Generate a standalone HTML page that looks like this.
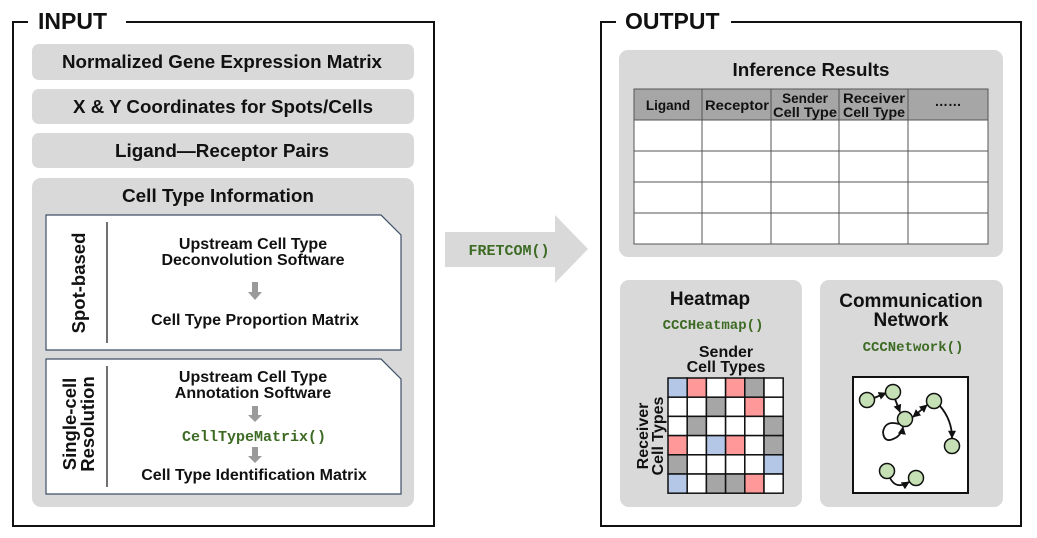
<!DOCTYPE html>
<html><head><meta charset="utf-8"><style>
html,body{margin:0;padding:0;background:#fff;}
svg{display:block;font-family:"Liberation Sans",Arial,sans-serif;}
.b{font-weight:bold;fill:#111;}
.m{font-family:"Liberation Mono","DejaVu Sans Mono",monospace;font-weight:bold;fill:#3d6b24;}
</style></head><body>
<svg width="1037" height="538" viewBox="0 0 1037 538" xmlns="http://www.w3.org/2000/svg">
<defs>
<marker id="ah" viewBox="0 0 10 10" refX="9" refY="5" markerWidth="4.5" markerHeight="4.5" orient="auto-start-reverse"><path d="M0,0 L10,5 L0,10 z" fill="#111"/></marker>
</defs>
<!-- INPUT frame -->
<path d="M28,22 H13 V526 H434 V22 H126" fill="none" stroke="#111" stroke-width="2"/>
<text x="38" y="29" class="b" font-size="23">INPUT</text>
<rect x="32" y="44" width="382" height="36" rx="7" fill="#d9d9d9"/>
<text x="222" y="68" class="b" font-size="18.5" text-anchor="middle" textLength="320" lengthAdjust="spacingAndGlyphs">Normalized Gene Expression Matrix</text>
<rect x="32" y="89" width="382" height="35" rx="7" fill="#d9d9d9"/>
<text x="223" y="113" class="b" font-size="18.5" text-anchor="middle" textLength="300" lengthAdjust="spacingAndGlyphs">X &amp; Y Coordinates for Spots/Cells</text>
<rect x="32" y="133" width="382" height="35" rx="7" fill="#d9d9d9"/>
<text x="222" y="157" class="b" font-size="18.5" text-anchor="middle" textLength="214" lengthAdjust="spacingAndGlyphs">Ligand—Receptor Pairs</text>
<rect x="32" y="178" width="382" height="329" rx="9" fill="#d9d9d9"/>
<text x="218" y="202" class="b" font-size="18.5" text-anchor="middle" textLength="192" lengthAdjust="spacingAndGlyphs">Cell Type Information</text>
<!-- spot-based -->
<path d="M46,215 H381 L401,235 V350 H46 Z" fill="#fff" stroke="#3e4e66" stroke-width="1.2"/>
<line x1="107" y1="222" x2="107" y2="343" stroke="#111" stroke-width="1.2"/>
<text transform="translate(85,283) rotate(-90)" class="b" font-size="18.5" text-anchor="middle">Spot-based</text>
<text x="253" y="249" class="b" font-size="16" text-anchor="middle">Upstream Cell Type</text>
<text x="253" y="265" class="b" font-size="16" text-anchor="middle">Deconvolution Software</text>
<path d="M252,282 h6 v10 h4 l-7,8 l-7,-8 h4 z" fill="#9a9a9a"/>
<text x="255" y="325" class="b" font-size="16" text-anchor="middle">Cell Type Proportion Matrix</text>
<!-- single-cell -->
<path d="M46,359 H381 L401,379 V494 H46 Z" fill="#fff" stroke="#3e4e66" stroke-width="1.2"/>
<line x1="107" y1="366" x2="107" y2="487" stroke="#111" stroke-width="1.2"/>
<text transform="translate(76,424) rotate(-90)" class="b" font-size="18.5" text-anchor="middle">Single-cell</text>
<text transform="translate(94,424) rotate(-90)" class="b" font-size="18.5" text-anchor="middle">Resolution</text>
<text x="253" y="382" class="b" font-size="16" text-anchor="middle">Upstream Cell Type</text>
<text x="253" y="398" class="b" font-size="16" text-anchor="middle">Annotation Software</text>
<path d="M252,406 h6 v9 h4 l-7,7 l-7,-7 h4 z" fill="#9a9a9a"/>
<text x="254" y="441" class="m" font-size="15" text-anchor="middle">CellTypeMatrix()</text>
<path d="M252,447 h6 v9 h4 l-7,7 l-7,-7 h4 z" fill="#9a9a9a"/>
<text x="254" y="480" class="b" font-size="16" text-anchor="middle">Cell Type Identification Matrix</text>
<!-- big arrow -->
<path d="M445,232 H555 V215 L588,249 L555,283 V267 H445 Z" fill="#d9d9d9"/>
<text x="509" y="255" class="m" font-size="15" text-anchor="middle">FRETCOM()</text>
<!-- OUTPUT frame -->
<path d="M616,22 H601 V526 H1021 V22 H731" fill="none" stroke="#111" stroke-width="2"/>
<text x="625" y="29" class="b" font-size="23">OUTPUT</text>
<rect x="619" y="50" width="384" height="207" rx="9" fill="#d9d9d9"/>
<text x="811" y="76" class="b" font-size="18.5" text-anchor="middle" textLength="157" lengthAdjust="spacingAndGlyphs">Inference Results</text>
<rect x="634" y="89" width="354" height="31" fill="#a6a6a6"/>
<rect x="634" y="120" width="354" height="124" fill="#fff"/>
<g stroke="#555" stroke-width="1" fill="none">
<rect x="634" y="89" width="354" height="155"/>
<line x1="634" y1="120" x2="988" y2="120"/><line x1="634" y1="151" x2="988" y2="151"/><line x1="634" y1="182" x2="988" y2="182"/><line x1="634" y1="213" x2="988" y2="213"/>
<line x1="702" y1="89" x2="702" y2="244"/><line x1="771" y1="89" x2="771" y2="244"/><line x1="839" y1="89" x2="839" y2="244"/><line x1="908" y1="89" x2="908" y2="244"/>
</g>
<g class="b" font-size="13.5" text-anchor="middle">
<text x="668" y="110">Ligand</text><text x="737" y="110" textLength="64" lengthAdjust="spacingAndGlyphs">Receptor</text>
<text x="805" y="103">Sender</text><text x="805" y="117" textLength="64" lengthAdjust="spacingAndGlyphs">Cell Type</text>
<text x="874" y="103" textLength="62" lengthAdjust="spacingAndGlyphs">Receiver</text><text x="874" y="117" textLength="62" lengthAdjust="spacingAndGlyphs">Cell Type</text>
<text x="948" y="106">……</text></g>
<!-- heatmap panel -->
<rect x="620" y="280" width="182" height="227" rx="9" fill="#d9d9d9"/>
<text x="710" y="305" class="b" font-size="19" text-anchor="middle">Heatmap</text>
<text x="713" y="329" class="m" font-size="14" text-anchor="middle">CCCHeatmap()</text>
<text x="726" y="357" class="b" font-size="16" text-anchor="middle">Sender</text>
<text x="726" y="372" class="b" font-size="16" text-anchor="middle">Cell Types</text>
<text transform="translate(648,436) rotate(-90)" class="b" font-size="16" text-anchor="middle">Receiver</text>
<text transform="translate(663,436) rotate(-90)" class="b" font-size="16" text-anchor="middle">Cell Types</text>
<g stroke="#111" stroke-width="1.5">
<rect x="668" y="378" width="19.2" height="19.2" fill="#b4c7e7"/><rect x="687.2" y="378" width="19.2" height="19.2" fill="#ff9999"/><rect x="706.4" y="378" width="19.2" height="19.2" fill="#fff"/><rect x="725.6" y="378" width="19.2" height="19.2" fill="#ff9999"/><rect x="744.8" y="378" width="19.2" height="19.2" fill="#a6a6a6"/><rect x="764" y="378" width="19.2" height="19.2" fill="#fff"/>
<rect x="668" y="397.2" width="19.2" height="19.2" fill="#fff"/><rect x="687.2" y="397.2" width="19.2" height="19.2" fill="#fff"/><rect x="706.4" y="397.2" width="19.2" height="19.2" fill="#a6a6a6"/><rect x="725.6" y="397.2" width="19.2" height="19.2" fill="#fff"/><rect x="744.8" y="397.2" width="19.2" height="19.2" fill="#ff9999"/><rect x="764" y="397.2" width="19.2" height="19.2" fill="#fff"/>
<rect x="668" y="416.4" width="19.2" height="19.2" fill="#fff"/><rect x="687.2" y="416.4" width="19.2" height="19.2" fill="#a6a6a6"/><rect x="706.4" y="416.4" width="19.2" height="19.2" fill="#fff"/><rect x="725.6" y="416.4" width="19.2" height="19.2" fill="#fff"/><rect x="744.8" y="416.4" width="19.2" height="19.2" fill="#fff"/><rect x="764" y="416.4" width="19.2" height="19.2" fill="#a6a6a6"/>
<rect x="668" y="435.6" width="19.2" height="19.2" fill="#ff9999"/><rect x="687.2" y="435.6" width="19.2" height="19.2" fill="#fff"/><rect x="706.4" y="435.6" width="19.2" height="19.2" fill="#b4c7e7"/><rect x="725.6" y="435.6" width="19.2" height="19.2" fill="#ff9999"/><rect x="744.8" y="435.6" width="19.2" height="19.2" fill="#fff"/><rect x="764" y="435.6" width="19.2" height="19.2" fill="#a6a6a6"/>
<rect x="668" y="454.8" width="19.2" height="19.2" fill="#a6a6a6"/><rect x="687.2" y="454.8" width="19.2" height="19.2" fill="#fff"/><rect x="706.4" y="454.8" width="19.2" height="19.2" fill="#fff"/><rect x="725.6" y="454.8" width="19.2" height="19.2" fill="#fff"/><rect x="744.8" y="454.8" width="19.2" height="19.2" fill="#fff"/><rect x="764" y="454.8" width="19.2" height="19.2" fill="#b4c7e7"/>
<rect x="668" y="474" width="19.2" height="19.2" fill="#b4c7e7"/><rect x="687.2" y="474" width="19.2" height="19.2" fill="#fff"/><rect x="706.4" y="474" width="19.2" height="19.2" fill="#a6a6a6"/><rect x="725.6" y="474" width="19.2" height="19.2" fill="#a6a6a6"/><rect x="744.8" y="474" width="19.2" height="19.2" fill="#ff9999"/><rect x="764" y="474" width="19.2" height="19.2" fill="#fff"/>
</g>
<!-- network panel -->
<rect x="820" y="280" width="183" height="227" rx="9" fill="#d9d9d9"/>
<text x="911" y="307" class="b" font-size="19" text-anchor="middle">Communication</text>
<text x="911" y="326" class="b" font-size="19" text-anchor="middle">Network</text>
<text x="913" y="351" class="m" font-size="14" text-anchor="middle">CCCNetwork()</text>
<rect x="853" y="377" width="115" height="116" fill="#fff" stroke="#111" stroke-width="2"/>
<g fill="none" stroke="#111" stroke-width="1.8" marker-end="url(#ah)">
<path d="M874,398 L886,393"/>
<path d="M895,399 L900,412"/>
<path d="M913,417 L927,405" marker-start="url(#ah)"/>
<path d="M940,406 Q952,420 952,438"/>
<path d="M899,424 Q885,420 883,432 Q884,445 897,437 Q902,433 903,427"/>
<path d="M890,478 Q896,490 909,482"/>
</g>
<g fill="#c5e0b4" stroke="#111" stroke-width="1.5">
<circle cx="867" cy="400" r="7.5"/><circle cx="893" cy="392" r="7.5"/><circle cx="905" cy="419" r="7.5"/><circle cx="934" cy="401" r="7.5"/><circle cx="952" cy="446" r="7.5"/><circle cx="887" cy="471" r="7.5"/><circle cx="916" cy="478" r="7.5"/>
</g>
</svg>
</body></html>
